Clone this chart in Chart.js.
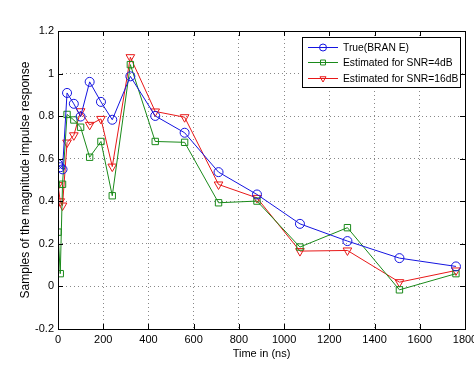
<!DOCTYPE html>
<html>
<head>
<meta charset="utf-8">
<script src="https://cdn.jsdelivr.net/npm/chart.js@4.4.1/dist/chart.umd.min.js"></script>
<style>
  html, body { margin: 0; padding: 0; background: #fff; }
  #wrap { width: 474px; height: 376px; }
</style>
</head>
<body>
<div id="wrap"><canvas id="myChart"></canvas></div>
<script>
// BRAN E tap delays (ns)
const delays = [0, 10, 20, 40, 70, 100, 140, 190, 240, 320, 430, 560, 710, 880, 1070, 1280, 1510, 1760];
const trueVals = [0.575, 0.56, 0.55, 0.909, 0.858, 0.798, 0.961, 0.867, 0.783, 0.987, 0.801, 0.722, 0.537, 0.432, 0.294, 0.213, 0.133, 0.094];
const snr4Vals = [0.255, 0.06, 0.48, 0.808, 0.782, 0.748, 0.607, 0.681, 0.426, 1.042, 0.681, 0.677, 0.393, 0.401, 0.185, 0.276, -0.016, 0.06];
const snr16Vals = [0.476, 0.40, 0.38, 0.676, 0.710, 0.823, 0.759, 0.787, 0.563, 1.077, 0.822, 0.795, 0.479, 0.416, 0.166, 0.169, 0.02, 0.075];
const seriesNames = ['True(BRAN E)', 'Estimated for SNR=4dB', 'Estimated for SNR=16dB'];

const toPoints = vals => delays.map((d, i) => ({ x: d, y: vals[i] }));

const ctx = document.getElementById('myChart');

// matlab style box + inward ticks
const boxPlugin = {
  id: 'box',
  afterDraw(chart) {
    const { ctx, chartArea: a, scales } = chart;
    ctx.save();
    ctx.strokeStyle = '#000';
    ctx.lineWidth = 1;
    ctx.strokeRect(a.left + 0.5, a.top + 0.5, a.right - a.left, a.bottom - a.top);
    ctx.beginPath();
    scales.x.ticks.forEach(t => {
      const px = Math.round(scales.x.getPixelForValue(t.value)) + 0.5;
      ctx.moveTo(px, a.bottom); ctx.lineTo(px, a.bottom - 5);
      ctx.moveTo(px, a.top); ctx.lineTo(px, a.top + 5);
    });
    scales.y.ticks.forEach(t => {
      const py = Math.round(scales.y.getPixelForValue(t.value)) + 0.5;
      ctx.moveTo(a.left, py); ctx.lineTo(a.left + 5, py);
      ctx.moveTo(a.right, py); ctx.lineTo(a.right - 5, py);
    });
    ctx.stroke();
    ctx.restore();
  }
};

// legend box with line + marker, like matlab
const legendPlugin = {
  id: 'boxLegend',
  afterDraw(chart) {
    const { ctx, chartArea: a } = chart;
    const w = 158, h = 50;
    const x0 = a.right - 163, y0 = a.top + 6;
    ctx.save();
    ctx.fillStyle = '#fff';
    ctx.fillRect(x0, y0, w, h);
    ctx.strokeStyle = '#000';
    ctx.lineWidth = 1;
    ctx.strokeRect(x0 + 0.5, y0 + 0.5, w, h);
    ctx.font = '10.3px "Liberation Sans", Arial, sans-serif';
    ctx.textBaseline = 'middle';
    chart.data.datasets.forEach((ds, i) => {
      const y = Math.round(y0 + 10 + i * 15.3) + 0.5;
      ctx.strokeStyle = ds.borderColor;
      ctx.lineWidth = 1;
      ctx.beginPath();
      ctx.moveTo(x0 + 6, y); ctx.lineTo(x0 + 36, y);
      ctx.stroke();
      ctx.fillStyle = 'rgba(0,0,0,0)';
      Chart.helpers.drawPoint(ctx, {
        pointStyle: ds.pointStyle, radius: 3.5, rotation: ds.pointRotation || 0, borderWidth: 1
      }, x0 + 21, y);
      ctx.fillStyle = '#000';
      ctx.fillText(ds.label, x0 + 41, y + 0.5);
    });
    ctx.restore();
  }
};

new Chart(ctx, {
  type: 'scatter',
  data: {
    datasets: [
      {
        label: seriesNames[0],
        data: toPoints(trueVals),
        showLine: true,
        borderColor: '#1414e0',
        backgroundColor: 'rgba(0,0,0,0)',
        borderWidth: 1,
        pointStyle: 'circle',
        pointRadius: 4.5,
        pointBorderWidth: 1
      },
      {
        label: seriesNames[1],
        data: toPoints(snr4Vals),
        showLine: true,
        borderColor: '#1a8a1a',
        backgroundColor: 'rgba(0,0,0,0)',
        borderWidth: 1,
        pointStyle: 'rect',
        pointRadius: 4.5,
        pointBorderWidth: 1
      },
      {
        label: seriesNames[2],
        data: toPoints(snr16Vals),
        showLine: true,
        borderColor: '#e81818',
        backgroundColor: 'rgba(0,0,0,0)',
        borderWidth: 1,
        pointStyle: 'triangle',
        pointRotation: 180,
        pointRadius: 5,
        pointBorderWidth: 1
      }
    ]
  },
  options: {
    responsive: true,
    maintainAspectRatio: false,
    animation: false,
    layout: { padding: { left: 0, right: 9, top: 31, bottom: 0 } },
    plugins: {
      legend: { display: false },
      tooltip: { enabled: false }
    },
    scales: {
      x: {
        type: 'linear',
        min: 0,
        max: 1800,
        afterFit: s => { s.height = 47; s.paddingLeft = 0; s.paddingRight = 0; },
        ticks: {
          stepSize: 200,
          color: '#000',
          padding: 4,
          maxRotation: 0,
          font: { family: '"Liberation Sans", Arial, sans-serif', size: 11 },
          callback: v => String(v)
        },
        grid: { color: '#888', drawTicks: false },
        border: { display: false, dash: [1, 3] },
        title: {
          display: true,
          text: 'Time in (ns)',
          color: '#000',
          padding: { top: 0, bottom: 15 },
          font: { family: '"Liberation Sans", Arial, sans-serif', size: 11 }
        }
      },
      y: {
        min: -0.2,
        max: 1.2,
        afterFit: s => { s.width = 58; s.paddingTop = 0; s.paddingBottom = 0; },
        ticks: {
          stepSize: 0.2,
          color: '#000',
          padding: 4,
          font: { family: '"Liberation Sans", Arial, sans-serif', size: 11 },
          callback: v => String(Number(v.toFixed(1)))
        },
        grid: { color: '#888', drawTicks: false },
        border: { display: false, dash: [1, 3] },
        title: {
          display: true,
          text: 'Samples of the magnitude impulse response',
          color: '#000',
          padding: { top: 18, bottom: 0 },
          font: { family: '"Liberation Sans", Arial, sans-serif', size: 12 }
        }
      }
    }
  },
  plugins: [boxPlugin, legendPlugin]
});
</script>
</body>
</html>
